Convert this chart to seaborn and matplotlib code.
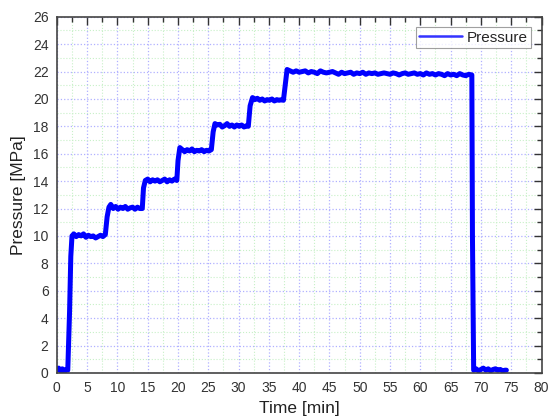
import matplotlib
matplotlib.use("Agg")
import matplotlib.pyplot as plt
import seaborn as sns
import pandas as pd
from matplotlib.ticker import MultipleLocator

# pressure trace (min, MPa)
time_min = [0.0, 0.3, 0.6, 0.9, 1.2, 1.5, 1.8, 2.1, 2.3, 2.5, 2.8,
            3.2, 3.6, 4.0, 4.4, 4.8, 5.2, 5.6, 6.0, 6.4, 6.8, 7.2, 7.6, 8.0,
            8.3, 8.6, 8.9, 9.3, 9.7, 10.1, 10.5, 10.9, 11.3, 11.7, 12.1, 12.5,
            12.9, 13.3, 13.7, 14.1, 14.3, 14.6, 15.0, 15.4, 15.8, 16.2, 16.6,
            17.0, 17.4, 17.8, 18.2, 18.6, 19.0, 19.4, 19.8, 20.0, 20.3, 20.7,
            21.1, 21.5, 21.9, 22.3, 22.7, 23.1, 23.5, 23.9, 24.3, 24.7, 25.1,
            25.5, 25.8, 26.1, 26.5, 26.9, 27.3, 27.7, 28.1, 28.5, 28.9, 29.3,
            29.7, 30.1, 30.5, 30.9, 31.3, 31.6, 31.9, 32.3, 32.7, 33.1, 33.5,
            33.9, 34.3, 34.7, 35.1, 35.5, 35.9, 36.3, 36.7, 37.1, 37.4, 37.7,
            38.0, 38.5, 39.0, 39.5, 40.0, 40.5, 41.0, 41.5, 42.0, 42.5, 43.0,
            43.5, 44.0, 44.5, 45.0, 45.5, 46.0, 46.5, 47.0, 47.5, 48.0, 48.5,
            49.0, 49.5, 50.0, 50.5, 51.0, 51.5, 52.0, 52.5, 53.0, 53.5, 54.0,
            54.5, 55.0, 55.5, 56.0, 56.5, 57.0, 57.5, 58.0, 58.5, 59.0, 59.5,
            60.0, 60.5, 61.0, 61.5, 62.0, 62.5, 63.0, 63.5, 64.0, 64.5, 65.0,
            65.5, 66.0, 66.5, 67.0, 67.5, 68.0, 68.5, 68.6, 68.8, 69.2, 69.6,
            70.0, 70.4, 70.8, 71.2, 71.6, 72.0, 72.4, 72.8, 73.2, 73.6, 74.0,
            74.2]
pressure_mpa = [0.2, 0.35, 0.15, 0.3, 0.1, 0.25, 0.2, 4.5, 8.5, 10.0, 10.15,
                9.95, 10.1, 10.0, 10.15, 9.9, 10.05, 9.95, 10.0, 9.85, 9.95, 10.05, 9.95, 10.1,
                11.4, 12.1, 12.3, 12.0, 12.15, 11.95, 12.1, 12.0, 12.15, 11.95, 12.05, 12.1,
                11.95, 12.1, 12.0, 12.0, 13.5, 14.05, 14.15, 13.95, 14.1, 14.0, 14.1,
                13.95, 14.05, 14.15, 13.95, 14.1, 14.0, 14.15, 14.05, 15.5, 16.45, 16.3,
                16.15, 16.3, 16.2, 16.35, 16.15, 16.25, 16.2, 16.3, 16.15, 16.25, 16.2,
                16.3, 17.6, 18.2, 18.1, 18.15, 17.95, 18.05, 18.2, 18.0, 18.1, 17.95,
                18.1, 18.0, 18.1, 17.95, 18.05, 18.0, 19.5, 20.1, 19.95, 20.05, 19.9,
                20.0, 19.85, 19.95, 19.9, 20.0, 19.85, 19.95, 19.9, 19.95, 19.9, 21.0,
                22.15, 22.05, 21.95, 22.05, 21.95, 22.0, 22.05, 21.9, 22.0, 21.95, 21.85,
                22.05, 21.95, 21.9, 21.95, 22.0, 21.9, 21.8, 21.95, 21.85, 21.9, 21.95,
                21.8, 21.9, 21.85, 21.95, 21.8, 21.9, 21.85, 21.9, 21.8, 21.85, 21.9,
                21.85, 21.8, 21.9, 21.85, 21.75, 21.85, 21.9, 21.8, 21.85, 21.9, 21.8,
                21.85, 21.75, 21.9, 21.8, 21.85, 21.75, 21.85, 21.8, 21.7, 21.85, 21.75,
                21.8, 21.7, 21.85, 21.75, 21.7, 21.8, 21.75, 10.0, 0.2, 0.3, 0.15,
                0.25, 0.35, 0.2, 0.3, 0.15, 0.25, 0.3, 0.2, 0.25, 0.15, 0.2,
                0.2]

df = pd.DataFrame({"Time": time_min, "Pressure": pressure_mpa})

sns.set_style("white")
plt.rcParams["font.family"] = ["Liberation Sans", "DejaVu Sans"]

fig, ax = plt.subplots(figsize=(5.52, 4.19), dpi=100)
fig.subplots_adjust(left=0.103, right=0.981, top=0.96, bottom=0.11)

sns.lineplot(data=df, x="Time", y="Pressure", ax=ax, color="#0000ff",
             linewidth=3.6, estimator=None, sort=False, label="Pressure")

ax.set_xlim(0, 80)
ax.set_ylim(0, 26)
ax.xaxis.set_major_locator(MultipleLocator(5))
ax.xaxis.set_minor_locator(MultipleLocator(2.5))
ax.yaxis.set_major_locator(MultipleLocator(2))
ax.yaxis.set_minor_locator(MultipleLocator(1))

ax.grid(which="minor", color="#c8f0c8", linestyle=":", linewidth=0.8)
ax.grid(which="major", color="#b0b0ff", linestyle=":", linewidth=0.9)
ax.set_axisbelow(True)

ax.tick_params(which="both", direction="in", top=True, right=True,
               colors="#333333", labelcolor="#333333", labelsize=10, width=1.0)
ax.tick_params(which="major", length=6)
ax.tick_params(which="minor", length=3.5)
ax.tick_params(axis="x", which="major", pad=6)
ax.tick_params(axis="y", which="major", pad=6)
for s in ax.spines.values():
    s.set_color("#444444")
    s.set_linewidth(1.2)

ax.set_xlabel("Time [min]", fontsize=12.5, color="#222222", labelpad=4)
ax.set_ylabel("Pressure [MPa]", fontsize=12.5, color="#222222", labelpad=5)

leg = ax.legend(loc="upper right", fontsize=11, frameon=True, fancybox=False,
                borderpad=0.2, handlelength=2.8, handletextpad=0.3,
                borderaxespad=0.7)
leg.get_frame().set_edgecolor("#888888")
leg.get_frame().set_linewidth(0.8)
for line in leg.get_lines():
    line.set_linewidth(1.8)
    line.set_color("#3333ff")

fig.savefig("out.png", dpi=100)
